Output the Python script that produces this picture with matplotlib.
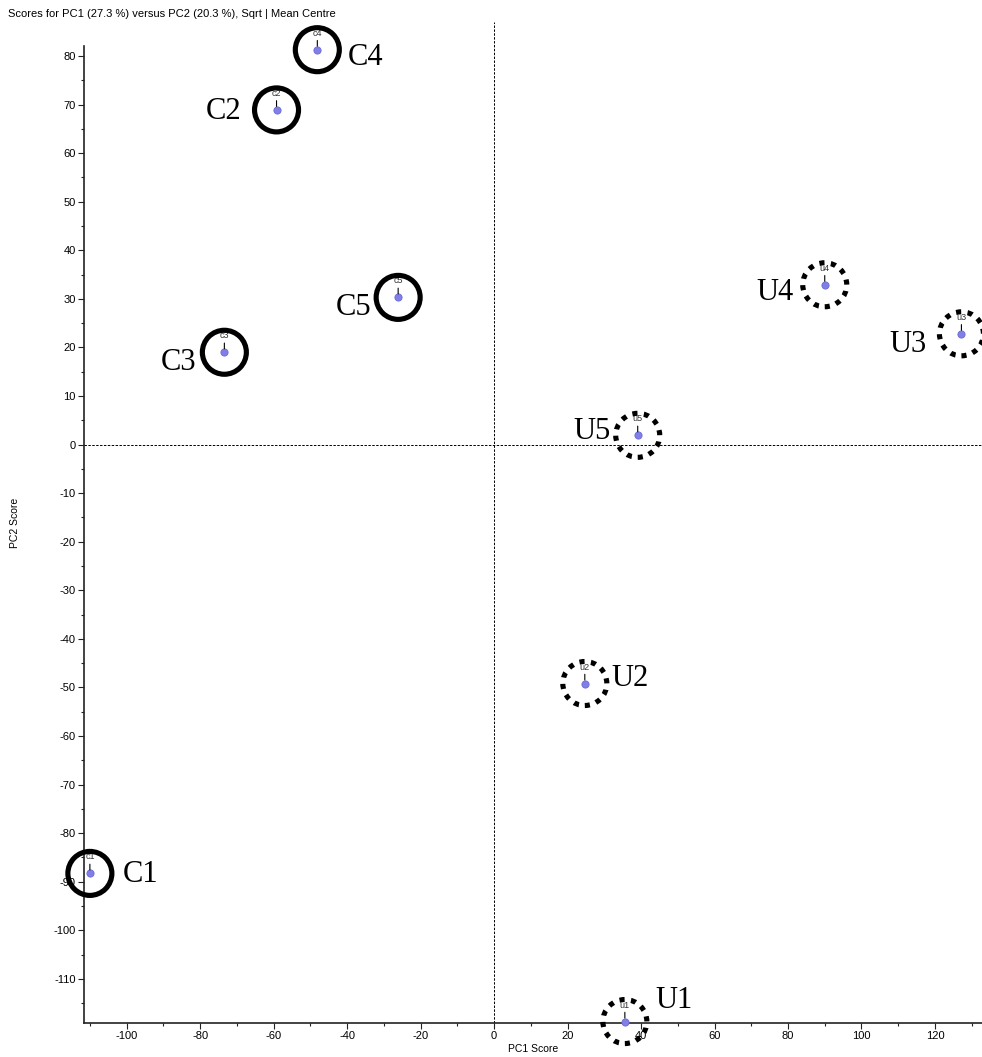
import matplotlib.pyplot as plt
import numpy as np
from matplotlib.ticker import FixedLocator

# PCA scores (PC1, PC2) for the sample groups
names = ["c1", "c2", "c3", "c4", "c5", "u1", "u2", "u3", "u4", "u5"]
groups = ["C1", "C2", "C3", "C4", "C5", "U1", "U2", "U3", "U4", "U5"]
pc1 = [-110.0, -59.2, -73.4, -48.1, -26.1, 35.6, 24.7, 127.2, 90.0, 39.1]
pc2 = [-88.3, 68.9, 19.0, 81.3, 30.3, -118.8, -49.2, 22.8, 32.9, 1.9]

# label placement: (ha, dx px, dy px)
label_pos = {
    "C1": ("left", 33, -1), "C2": ("right", -35, -2), "C3": ("right", -28, -10),
    "C4": ("left", 30, -8), "C5": ("right", -27, -10),
    "U1": ("left", 31, 21), "U2": ("left", 27, 5), "U3": ("right", -35, -11),
    "U4": ("right", -31, -8), "U5": ("right", -27, 4),
}

plt.rcParams['font.family'] = ['Liberation Sans', 'DejaVu Sans']
plt.rcParams['axes.unicode_minus'] = False
fig = plt.figure(figsize=(9.82, 10.57), dpi=100)
W, H = 982, 1057
ax = fig.add_axes([84 / W, 1 - 1023 / H, (W - 84) / W, (1023 - 22) / H])

ax.set_xlim(-111.6, 132.8)
ax.set_ylim(-119.1, 87.0)

ax.axhline(0, color="black", lw=0.7, ls=(0, (2.5, 1.5)), zorder=1)
ax.axvline(0, color="black", lw=0.7, ls=(0, (2.5, 1.5)), zorder=1)

px = 0.72  # pixel -> points at 100 dpi
for n, g, x, y in zip(names, groups, pc1, pc2):
    ax.plot(x, y, "o", ms=5.2, color="#7f7fe6", mec="#6a6ad8", mew=0.6, zorder=3, clip_on=False)
    ax.annotate(n, (x, y), xytext=(0, 12 * px), textcoords="offset points",
                ha="center", va="bottom", fontsize=6.5, color="#333333",
                arrowprops=dict(arrowstyle="-", color="black", lw=0.8,
                                shrinkA=0, shrinkB=2.5),
                annotation_clip=False, zorder=4)
    ls = "solid" if g.startswith("C") else (0, (1.0, 1.25))
    ax.scatter([x], [y], s=(44 * px) ** 2, facecolors="none", edgecolors="black",
               linewidths=3.7, linestyles=ls, zorder=5, clip_on=False)
    ha, dx, dy = label_pos[g]
    ax.annotate(g, (x, y), xytext=(dx * px, dy * px), textcoords="offset points",
                ha=ha, va="center", fontsize=22, family="Liberation Serif",
                annotation_clip=False, zorder=6)

ax.spines["top"].set_visible(False)
ax.spines["right"].set_visible(False)
for s in ("left", "bottom"):
    ax.spines[s].set_linewidth(1.2)
    ax.spines[s].set_color("#222222")
ax.spines["left"].set_bounds(-119.1, 82)

ax.xaxis.set_major_locator(FixedLocator(np.arange(-100, 121, 20)))
ax.xaxis.set_minor_locator(FixedLocator(np.arange(-110, 131, 10)))
ax.yaxis.set_major_locator(FixedLocator(np.arange(-110, 81, 10)))
ax.yaxis.set_minor_locator(FixedLocator(np.arange(-115, 81, 5)))
ax.tick_params(which="both", direction="out", labelsize=8, color="#222222", width=0.8)
ax.tick_params(which="major", length=4, pad=2)
ax.tick_params(which="minor", length=2.5)

ax.set_xlabel("PC1 Score", fontsize=7.5, labelpad=2)
ax.set_ylabel("PC2 Score", fontsize=7.5, labelpad=24)
fig.text(8 / W, 1 - 14 / H, "Scores for PC1 (27.3 %) versus PC2 (20.3 %), Sqrt | Mean Centre",
         fontsize=8, va="center", ha="left")

fig.savefig("out.png", dpi=100)
